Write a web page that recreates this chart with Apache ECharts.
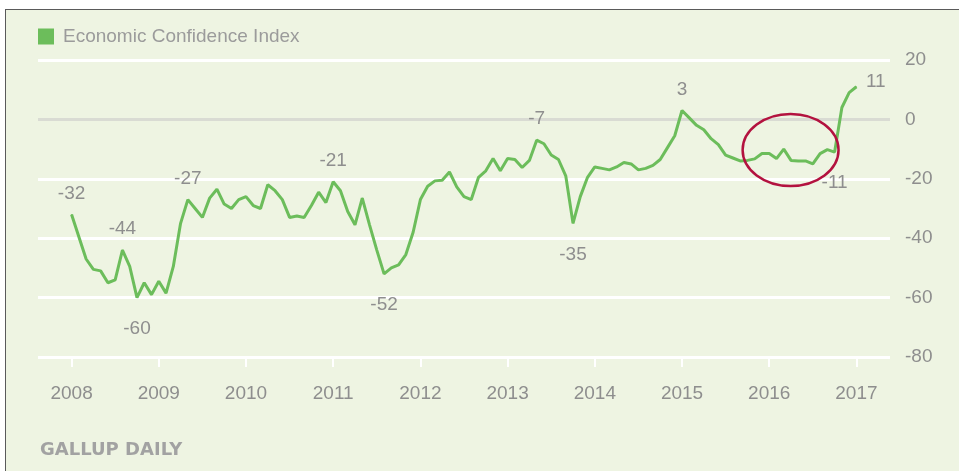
<!DOCTYPE html>
<html>
<head>
<meta charset="utf-8">
<script src="https://cdn.jsdelivr.net/npm/echarts@6/dist/echarts.min.js"></script>
<style>
  html, body { margin: 0; padding: 0; background: #ffffff; }
  #frame { position: absolute; left: 5px; top: 9px; width: 960px; height: 470px;
           background: #eef4e2; border: 1px solid #5a5a5a; box-sizing: border-box; }
  #chart { position: absolute; left: 0; top: 0; width: 959px; height: 471px; }
</style>
</head>
<body>
<div id="frame"></div>
<div id="chart"></div>
<script>
// ---- Data (monthly Economic Confidence Index, Jan 2008 - Jan 2017) ----
const eci2008 = [-32, -39.5, -47, -50.5, -51, -55, -54, -44, -49.5, -60, -55, -59];
const eci2009 = [-54.5, -58.5, -49.5, -35, -27, -30, -33, -26.5, -23.5, -28.5, -30, -27];
const eci2010 = [-26, -29, -30, -22, -24, -27, -33, -32.5, -33, -29, -24.5, -28];
const eci2011 = [-21, -24, -31, -35.5, -26.5, -35.5, -44, -52, -50, -49, -45.5, -38];
const eci2012 = [-27, -22.5, -20.7, -20.5, -17.7, -22.7, -26, -27, -19.5, -17.3, -13.2, -17.3];
const eci2013 = [-13.2, -13.5, -16.2, -13.8, -7, -8.2, -12, -13.5, -19, -35, -26, -19.5];
const eci2014 = [-16, -16.5, -17, -16, -14.5, -15, -17, -16.5, -15.5, -13.5, -9.5, -5.5];
const eci2015 = [3, 0.5, -2, -3.5, -6.5, -8.5, -12, -13, -14, -13.8, -13.3, -11.5];
const eci2016 = [-11.5, -13.2, -10, -13.8, -14, -14, -15, -11.5, -10.2, -11, 4, 9];
const eci2017 = [11];

const dataYears = [2008, 2009, 2010, 2011, 2012, 2013, 2014, 2015, 2016, 2017];
const yearSeries = [eci2008, eci2009, eci2010, eci2011, eci2012, eci2013, eci2014, eci2015, eci2016, eci2017];

const xTickYears = [2008, 2009, 2010, 2011, 2012, 2013, 2014, 2015, 2016, 2017];
const yTicks = [-80, -60, -40, -20, 0, 20];

const seriesName = 'Economic Confidence Index';
const sourceText = 'GALLUP DAILY';

// labelled points: [year, monthIndex, position]
const callouts = [
  [2008, 0, 'top'], [2008, 7, 'top'], [2008, 9, 'bottom'], [2009, 4, 'top'],
  [2011, 0, 'top'], [2011, 7, 'bottom'], [2013, 4, 'top'], [2013, 9, 'bottom'],
  [2015, 0, 'top'], [2016, 9, 'bottom'], [2017, 0, 'right']
];
// highlighted region (data coords): centre year, centre value, half-width (years), half-height (value)
const highlight = { cx: 2016.245, cy: -10.3, rx: 0.55, ry: 12.1 };

// ---- build ----
const GREEN = '#6cbd5b';
const LABEL_GRAY = '#8e8e8e';
const FONT = "'Liberation Sans', Arial, sans-serif";

const labelStyle = {
  top: { position: 'top', distance: 11 },
  bottom: { position: 'bottom', distance: 21 },
  right: { position: 'right', distance: 9, offset: [0, -5] }
};

const points = [];
yearSeries.forEach((arr, yi) => {
  arr.forEach((v, m) => {
    const item = { value: [dataYears[yi] + m / 12, v] };
    const c = callouts.find(c => c[0] === dataYears[yi] && c[1] === m);
    if (c) {
      item.label = Object.assign({ show: true }, labelStyle[c[2]]);
    }
    points.push(item);
  });
});

const chart = echarts.init(document.getElementById('chart'), null, { renderer: 'canvas' });

const option = {
  backgroundColor: 'transparent',
  animation: false,
  textStyle: { fontFamily: FONT },
  legend: {
    data: [{ name: seriesName, icon: 'rect' }],
    left: 33, top: 22,
    itemWidth: 16, itemHeight: 16,
    selectedMode: false,
    textStyle: { fontSize: 19, color: '#9b9b9b', fontFamily: FONT, padding: [0, 0, 0, 4] }
  },
  title: {
    text: sourceText,
    left: 35, top: 436,
    textStyle: { fontSize: 18, fontWeight: 'bold', color: '#a2a2a2', fontFamily: "'DejaVu Sans', sans-serif" }
  },
  grid: { left: 38, right: 69, top: 60, bottom: 114, containLabel: false },
  xAxis: {
    type: 'value',
    min: 2007.615, max: 2017.385,
    axisLine: { show: false, onZero: false },
    splitLine: { show: false },
    axisTick: { show: true, customValues: xTickYears, length: 10, lineStyle: { color: '#ffffff', width: 2 } },
    axisLabel: { show: true, customValues: xTickYears, margin: 27, fontSize: 19, color: LABEL_GRAY, fontFamily: FONT,
                 formatter: v => String(Math.round(v)) }
  },
  yAxis: {
    type: 'value',
    position: 'right',
    min: -80, max: 20, interval: 20,
    axisLine: { show: false },
    axisTick: { show: false },
    axisLabel: { margin: 15, fontSize: 19, color: LABEL_GRAY, fontFamily: FONT },
    splitLine: { show: true, lineStyle: { width: 3, color: yTicks.map(t => t === 0 ? '#d9dbd3' : '#ffffff') } }
  },
  series: [{
    name: seriesName,
    type: 'line',
    data: points,
    color: GREEN,
    showSymbol: true,
    showAllSymbol: true,
    symbol: 'circle',
    symbolSize: 1,
    lineStyle: { width: 3, color: GREEN },
    itemStyle: { color: GREEN },
    label: {
      show: false,
      fontSize: 19, color: LABEL_GRAY, fontFamily: FONT,
      formatter: p => String(Math.round(p.value[1]))
    },
    emphasis: { disabled: true },
    z: 3
  }]
};
chart.setOption(option);

// highlight ellipse positioned through the chart's own scales
const c0 = chart.convertToPixel({ gridIndex: 0 }, [highlight.cx, highlight.cy]);
const c1 = chart.convertToPixel({ gridIndex: 0 }, [highlight.cx + highlight.rx, highlight.cy + highlight.ry]);
chart.setOption({
  graphic: [{
    type: 'ellipse',
    shape: { cx: c0[0], cy: c0[1], rx: Math.abs(c1[0] - c0[0]), ry: Math.abs(c0[1] - c1[1]) },
    style: { fill: 'none', stroke: '#b3123f', lineWidth: 2.5 },
    z: 10
  }]
});
</script>
</body>
</html>
